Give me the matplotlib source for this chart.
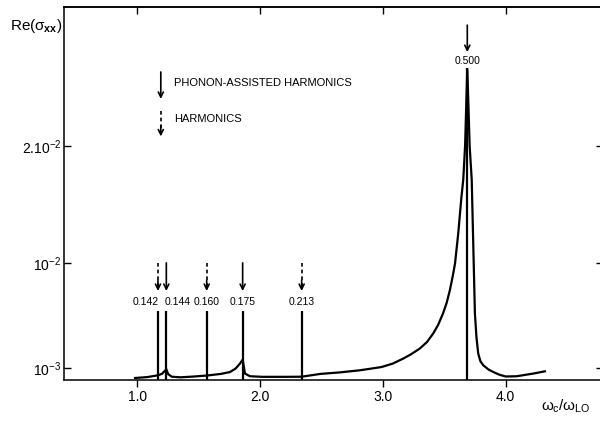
import matplotlib
matplotlib.use('Agg')
import matplotlib.pyplot as plt

plt.rcParams['font.family'] = ['Liberation Sans', 'DejaVu Sans']
plt.rcParams['mathtext.fontset'] = 'custom'
plt.rcParams['mathtext.rm'] = 'Liberation Sans'
plt.rcParams['mathtext.it'] = 'Liberation Sans'
plt.rcParams['mathtext.bf'] = 'Liberation Sans:bold'

# Re(sigma_xx) versus omega_c / omega_LO, values in units of 1e-3
omega = [0.98, 1.08, 1.167, 1.20, 1.235, 1.25, 1.28, 1.35, 1.45, 1.564,
         1.68, 1.754, 1.80, 1.835, 1.857, 1.876, 1.917, 2.02, 2.20, 2.338,
         2.49, 2.65, 2.813, 2.99, 3.08, 3.166, 3.23, 3.30, 3.36, 3.41,
         3.45, 3.49, 3.52, 3.546, 3.568, 3.588, 3.614, 3.64, 3.655, 3.67,
         3.688, 3.707, 3.724, 3.737, 3.75, 3.763, 3.777, 3.795, 3.818,
         3.86, 3.90, 3.95, 4.00, 4.09, 4.226, 4.32]
sigma = [0.17, 0.25, 0.40, 0.53, 0.91, 0.50, 0.28, 0.23, 0.29, 0.38,
         0.52, 0.68, 0.98, 1.40, 1.74, 0.55, 0.32, 0.27, 0.27, 0.28,
         0.52, 0.65, 0.83, 1.11, 1.40, 1.83, 2.20, 2.68, 3.25, 3.97,
         4.70, 5.68, 6.60, 7.67, 8.80, 9.95, 12.5, 15.6, 17.1, 20.0,
         26.6, 20.0, 17.1, 11.4, 5.68, 3.60, 2.26, 1.60, 1.26,
         0.90, 0.68, 0.45, 0.30, 0.32, 0.55, 0.74]

# resonance positions, labels and kind (True = phonon-assisted harmonic)
res_pos = [1.167, 1.235, 1.564, 1.857, 2.338]
res_labels = ['0.142', '0.144', '0.160', '0.175', '0.213']
res_phonon = [False, True, False, True, False]
res_align = ['right', 'left', 'center', 'center', 'center']
res_top = 5.9

main_pos = 3.688
main_label = '0.500'
main_top = 26.6

ytick_vals = [1, 10, 20]
ytick_labels = [r'$10^{-3}$', r'$10^{-2}$', r'$2.10^{-2}$']
xtick_vals = [1.0, 2.0, 3.0, 4.0]
xtick_labels = ['1.0', '2.0', '3.0', '4.0']

fig = plt.figure(figsize=(6, 4.21), dpi=100)
ax = fig.add_axes([64 / 600, 41 / 421, 539 / 600, 373 / 421])

ax.plot(omega, sigma, color='black', lw=1.6, solid_joinstyle='miter')

lw_arrow = 1.2


def arrow(x, y0, y1, dashed):
    if dashed:
        ax.plot([x, x], [y0, y1 + 0.4], color='black', lw=lw_arrow,
                linestyle=(0, (2.2, 1.8)))
        ax.annotate('', xy=(x, y1), xytext=(x, y1 + 0.9),
                    arrowprops=dict(arrowstyle='->', lw=lw_arrow,
                                    color='black', shrinkA=0, shrinkB=0,
                                    mutation_scale=9))
    else:
        ax.annotate('', xy=(x, y1), xytext=(x, y0),
                    arrowprops=dict(arrowstyle='->', lw=lw_arrow,
                                    color='black', shrinkA=0, shrinkB=0,
                                    mutation_scale=9))


for x, lab, ph, ha in zip(res_pos, res_labels, res_phonon, res_align):
    ax.vlines(x, 0, res_top, color='black', lw=1.6)
    dx = {'right': 0.01, 'left': -0.01, 'center': 0.0}[ha]
    ax.text(x + dx, 6.7, lab, ha=ha, va='center', fontsize=7.5)
    arrow(x, 10.0, 7.6, not ph)

ax.vlines(main_pos, 0, main_top, color='black', lw=1.6)
ax.text(main_pos, 27.2, main_label, ha='center', va='center', fontsize=7.5)
arrow(main_pos, 30.3, 28.0, False)

# key for the arrow styles
arrow(1.19, 26.3, 24.0, False)
ax.text(1.3, 25.4, 'PHONON-ASSISTED HARMONICS', ha='left', va='center',
        fontsize=8)
arrow(1.19, 23.0, 20.8, True)
ax.text(1.3, 22.3, 'HARMONICS', ha='left', va='center', fontsize=8)

ax.set_xlim(0.401, 4.794)
ax.set_ylim(0, 31.85)

ax.set_xticks(xtick_vals)
ax.set_xticklabels(xtick_labels, fontsize=10)
ax.set_yticks(ytick_vals)
ax.set_yticklabels(ytick_labels, fontsize=10)
ax.tick_params(axis='x', direction='out', length=5, width=1, pad=2)
ax.tick_params(axis='y', direction='in', length=5, width=1, pad=2,
               right=True)

top = ax.secondary_xaxis('top')
top.set_xticks(xtick_vals)
top.tick_params(direction='in', length=5, width=1, labeltop=False)
top.spines['top'].set_linewidth(1.1)

for s in ax.spines.values():
    s.set_linewidth(1.1)

fig.text(10 / 600, 1 - 26 / 421, r'Re($\sigma_{\mathbf{xx}}$)',
         ha='left', va='center', fontsize=11)
fig.text(590 / 600, 1 - 406 / 421, r'$\omega_c/\omega_{LO}$',
         ha='right', va='center', fontsize=11)

fig.savefig('out.png', dpi=100)
